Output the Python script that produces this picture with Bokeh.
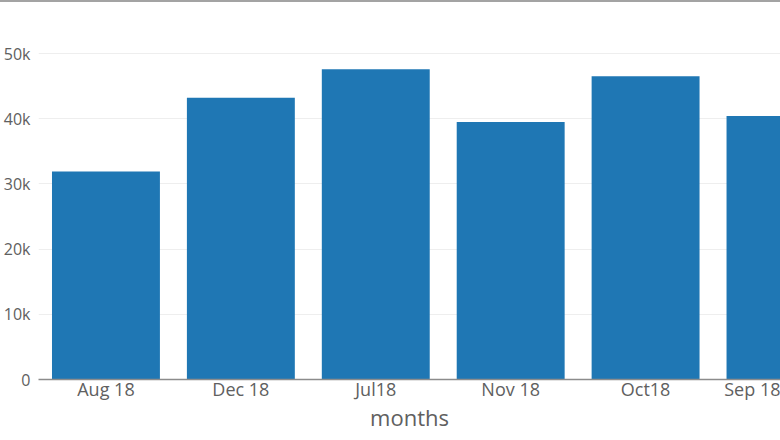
from bokeh.plotting import figure
from bokeh.models import Range1d, FixedTicker, SingleIntervalTicker, NumeralTickFormatter, ColumnDataSource
from bokeh.embed import file_html
from bokeh.resources import INLINE

months = ["Aug 18", "Dec 18", "Jul18", "Nov 18", "Oct18", "Sep 18"]
counts = [31900, 43200, 47600, 39500, 46500, 40400]
positions = list(range(len(months)))

src = ColumnDataSource(dict(x=positions, top=counts, name=months))

p = figure(width=780, height=432, output_backend="svg", toolbar_location=None,
           x_range=Range1d(-0.5, 5.0), y_range=Range1d(0, 52000),
           min_border_left=10, min_border_right=0, min_border_top=38, min_border_bottom=50,
           margin=(0, 0, -10, 0))
p.styles = {"border-top": "2px solid #a3a3a3"}
p.outline_line_color = None
p.background_fill_color = "white"
p.border_fill_color = "white"

p.vbar(x="x", top="top", width=0.8, bottom=0, source=src, color="#1f77b4", line_color=None)

p.xaxis.ticker = FixedTicker(ticks=positions)
p.xaxis.major_label_overrides = {i: m for i, m in enumerate(months)}
p.xaxis.major_tick_line_color = None
p.xaxis.major_tick_out = 0
p.xaxis.major_tick_in = 0
p.xaxis.minor_tick_line_color = None
p.xaxis.axis_line_color = "#8c8c8c"
p.xaxis.axis_line_width = 1.5
p.xaxis.major_label_text_font = "Open Sans"
p.xaxis.major_label_text_font_size = "18px"
p.xaxis.major_label_text_color = "#606060"
p.xaxis.major_label_standoff = -3
p.xaxis.axis_label = "months"
p.xaxis.axis_label_text_font = "Open Sans"
p.xaxis.axis_label_text_font_size = "22px"
p.xaxis.axis_label_text_font_style = "normal"
p.xaxis.axis_label_text_color = "#606060"
p.xaxis.axis_label_standoff = -2

p.yaxis.ticker = SingleIntervalTicker(interval=10000)
p.yaxis.formatter = NumeralTickFormatter(format="0a")
p.yaxis.axis_line_color = None
p.yaxis.major_tick_line_color = None
p.yaxis.major_tick_out = 0
p.yaxis.major_tick_in = 0
p.yaxis.minor_tick_line_color = None
p.yaxis.major_label_text_font = "Open Sans"
p.yaxis.major_label_text_font_size = "16px"
p.yaxis.major_label_text_color = "#606060"
p.yaxis.major_label_standoff = 4

p.xgrid.grid_line_color = None
p.ygrid.grid_line_color = "#eeeeee"
p.ygrid.grid_line_width = 1

open("out.html", "w").write(file_html(p, INLINE))
